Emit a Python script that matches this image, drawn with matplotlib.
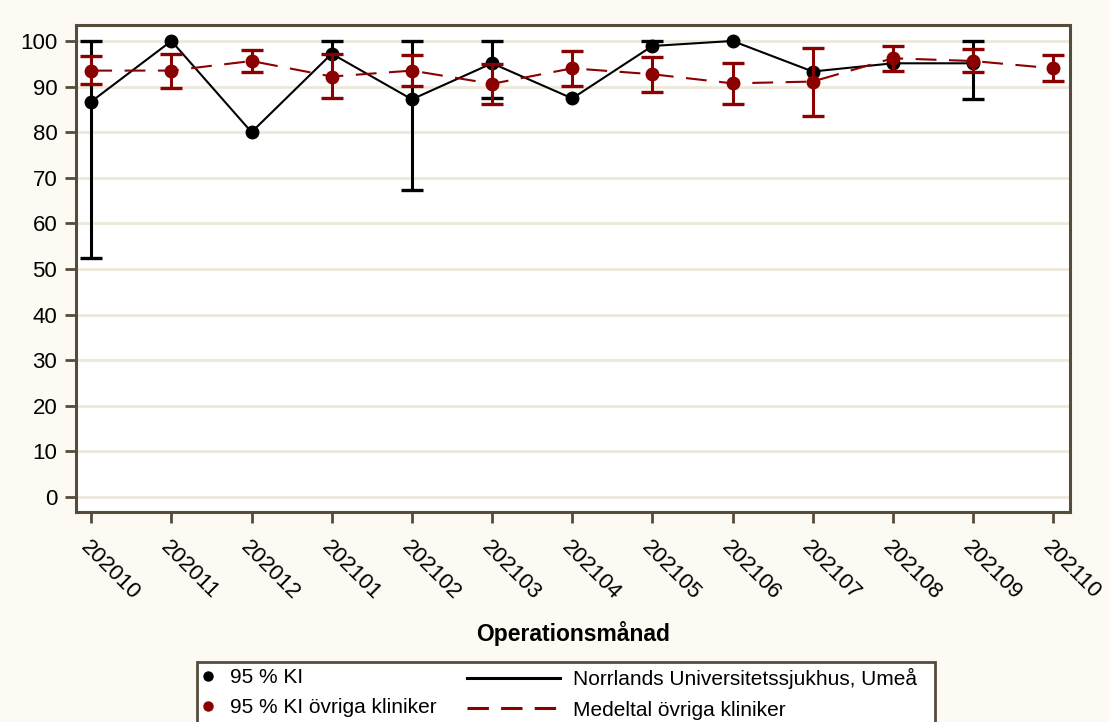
import numpy as np
import matplotlib
matplotlib.use("Agg")
import matplotlib.pyplot as plt
from matplotlib.lines import Line2D
from matplotlib.patches import Rectangle

months = ["202010", "202011", "202012", "202101", "202102", "202103", "202104",
          "202105", "202106", "202107", "202108", "202109", "202110"]

# Norrlands Universitetssjukhus, Umeå (NaN = no interval limit shown)
nus_val = [86.7, 100.0, 80.0, 97.2, 87.2, 95.1, 87.4, 98.9, 100.0, 93.3, 95.1, 95.1, np.nan]
nus_lo = [52.4, np.nan, np.nan, np.nan, 67.3, 87.6, np.nan, np.nan, np.nan, np.nan, np.nan, 87.2, np.nan]
nus_hi = [100.0, np.nan, np.nan, 100.0, 100.0, 100.0, np.nan, 100.0, np.nan, np.nan, np.nan, 100.0, np.nan]

# Medeltal övriga kliniker
oth_val = [93.5, 93.5, 95.6, 92.2, 93.5, 90.6, 94.0, 92.7, 90.7, 91.1, 96.2, 95.6, 94.0]
oth_lo = [90.6, 89.7, 93.1, 87.4, 90.1, 86.1, 90.1, 88.8, 86.1, 83.6, 93.5, 93.3, 91.2]
oth_hi = [96.6, 97.1, 98.0, 97.1, 96.9, 95.0, 97.8, 96.4, 95.1, 98.4, 98.9, 98.2, 96.9]

yticks = list(range(0, 101, 10))

BG = "#fdfaf3"
GRID = "#ece9da"
SPINE = "#564c3c"
RED = "#8b0000"

plt.rcParams["font.family"] = ["Liberation Sans", "DejaVu Sans"]

fig = plt.figure(figsize=(11.09, 7.22), dpi=100, facecolor=BG)
ax = fig.add_axes([76 / 1109, 1 - 512 / 722, (1070 - 76) / 1109, (512 - 25) / 722])
ax.set_facecolor("white")

x = np.arange(len(months))


def draw_ci(val, lo, hi, color, z):
    val = np.array(val, float)
    lo = np.array(lo, float)
    hi = np.array(hi, float)
    lo_end = np.where(np.isnan(lo), val, lo)
    hi_end = np.where(np.isnan(hi), val, hi)
    m = ~(np.isnan(lo) & np.isnan(hi)) & ~np.isnan(val)
    ax.vlines(x[m], lo_end[m], hi_end[m], color=color, lw=2.2, zorder=z)
    ml = ~np.isnan(lo)
    mh = ~np.isnan(hi)
    ax.plot(x[ml], lo[ml], ls="none", marker="_", ms=15.5, mew=2.4, color=color, zorder=z)
    ax.plot(x[mh], hi[mh], ls="none", marker="_", ms=15.5, mew=2.4, color=color, zorder=z)


for v in yticks:
    ax.axhline(v, color=GRID, lw=2, zorder=0)

# black series
draw_ci(nus_val, nus_lo, nus_hi, "black", 2)
ax.plot(x, nus_val, color="black", lw=1.5, zorder=2)
ax.plot(x, nus_val, "o", color="black", ms=9, zorder=3)

# red series
draw_ci(oth_val, oth_lo, oth_hi, RED, 4)
ax.plot(x, oth_val, color=RED, lw=1.5, dashes=(10, 6), zorder=4)
ax.plot(x, oth_val, "o", color=RED, ms=9, zorder=5)

ax.set_xlim(-0.19, 12.21)
ax.set_ylim(-3.3, 103.5)
ax.set_yticks(yticks)
ax.set_xticks(x)
ax.set_xticklabels(months, rotation=-45, ha="left", va="top", rotation_mode="anchor")
ax.tick_params(axis="both", labelsize=16, length=8, width=2, color=SPINE, direction="out")
ax.tick_params(axis="y", pad=5.5)
ax.tick_params(axis="x", pad=10)
for s in ax.spines.values():
    s.set_color(SPINE)
    s.set_linewidth(2.2)

ax.set_xlabel("Operationsmånad", fontsize=16.5, fontweight="bold", labelpad=12)

# legend
fig.patches.append(Rectangle((197 / 1109, -0.05), (935 - 197) / 1109, 0.05 + (722 - 662) / 722,
                             transform=fig.transFigure, facecolor="white",
                             edgecolor=SPINE, lw=2, zorder=1))
h1 = [Line2D([], [], ls="none", marker="o", color="black", ms=6.5),
      Line2D([], [], ls="none", marker="o", color=RED, ms=6.5)]
l1 = fig.legend(h1, ["95 % KI", "95 % KI övriga kliniker"], loc="upper left",
                bbox_to_anchor=(198 / 1109, 1 - 668 / 722), frameon=False, fontsize=15,
                handlelength=1.0, handletextpad=0.53, borderpad=0, borderaxespad=0,
                labelspacing=0.55)
h2 = [Line2D([], [], color="black", lw=2.2),
      Line2D([], [], color=RED, lw=2.2, dashes=(7, 4))]
l2 = fig.legend(h2, ["Norrlands Universitetssjukhus, Umeå", "Medeltal övriga kliniker"],
                loc="upper left", bbox_to_anchor=(467 / 1109, 1 - 668 / 722), frameon=False,
                fontsize=15, handlelength=4.47, handletextpad=0.63, borderpad=0,
                borderaxespad=0, labelspacing=0.55)

fig.savefig("out.png", dpi=100, facecolor=BG)
